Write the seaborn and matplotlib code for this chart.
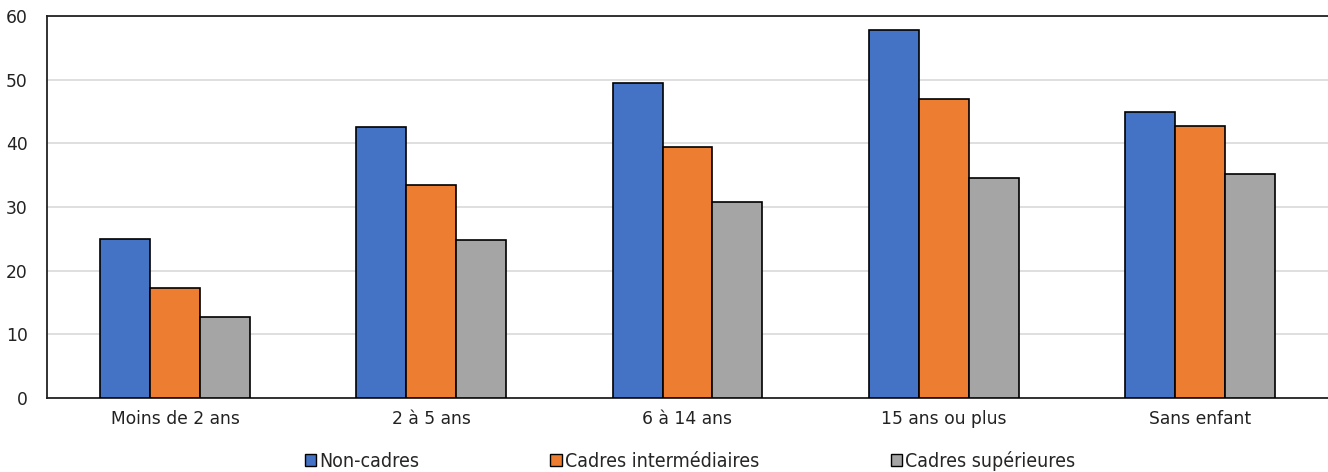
import pandas as pd
import matplotlib.pyplot as plt
import seaborn as sns
from matplotlib.patches import Patch

categories = ['Moins de 2 ans', '2 à 5 ans', '6 à 14 ans', '15 ans ou plus', 'Sans enfant']
series = ['Non-cadres', 'Cadres intermédiaires', 'Cadres supérieures']
non_cadres = [25.0, 42.6, 49.5, 57.8, 44.9]
cadres_inter = [17.2, 33.4, 39.5, 46.9, 42.7]
cadres_sup = [12.7, 24.8, 30.8, 34.5, 35.2]
colors = ['#4472C4', '#ED7D31', '#A5A5A5']

rows = []
for s, vals in zip(series, [non_cadres, cadres_inter, cadres_sup]):
    for c, v in zip(categories, vals):
        rows.append({'cat': c, 'serie': s, 'val': v})
df = pd.DataFrame(rows)

sns.set_style('white')
plt.rcParams['font.family'] = ['DejaVu Sans']
plt.rcParams['font.sans-serif'] = ['DejaVu Sans']

fig = plt.figure(figsize=(13.28, 4.72), dpi=100)
ax = fig.add_axes([47 / 1328, 1 - 398 / 472, 1 - 47 / 1328, (398 - 16) / 472])

sns.barplot(data=df, x='cat', y='val', hue='serie', palette=colors, saturation=1,
            width=0.585, edgecolor='black', linewidth=1.2, ax=ax, legend=False,
            zorder=3)

ax.set_ylim(0, 60)
ax.set_yticks(range(0, 61, 10))
ax.set_xlim(-0.5, 4.5)
ax.yaxis.grid(True, color='#d9d9d9', linewidth=1.2, zorder=0)
ax.set_axisbelow(True)
ax.set_xlabel('')
ax.set_ylabel('')
ax.tick_params(axis='both', length=0, labelsize=12.3, colors='#222222')
ax.tick_params(axis='x', pad=9)
ax.tick_params(axis='y', pad=14)
for lab in ax.get_xticklabels() + ax.get_yticklabels():
    lab.set_family('DejaVu Sans')
for side in ['top', 'left', 'bottom']:
    ax.spines[side].set_color('#222222')
    ax.spines[side].set_linewidth(1.3)
ax.spines['right'].set_visible(False)

handles = [Patch(facecolor=c, edgecolor='black', linewidth=1) for c in colors]
fig.legend(handles, series, loc='lower center', bbox_to_anchor=(0.5195, -0.035), ncol=3,
           frameon=False, handlelength=0.6, handleheight=0.6, handletextpad=0.15,
           columnspacing=6.75, prop={'family': 'DejaVu Sans', 'stretch': 'condensed', 'size': 14})

fig.savefig('out.png', dpi=100)
